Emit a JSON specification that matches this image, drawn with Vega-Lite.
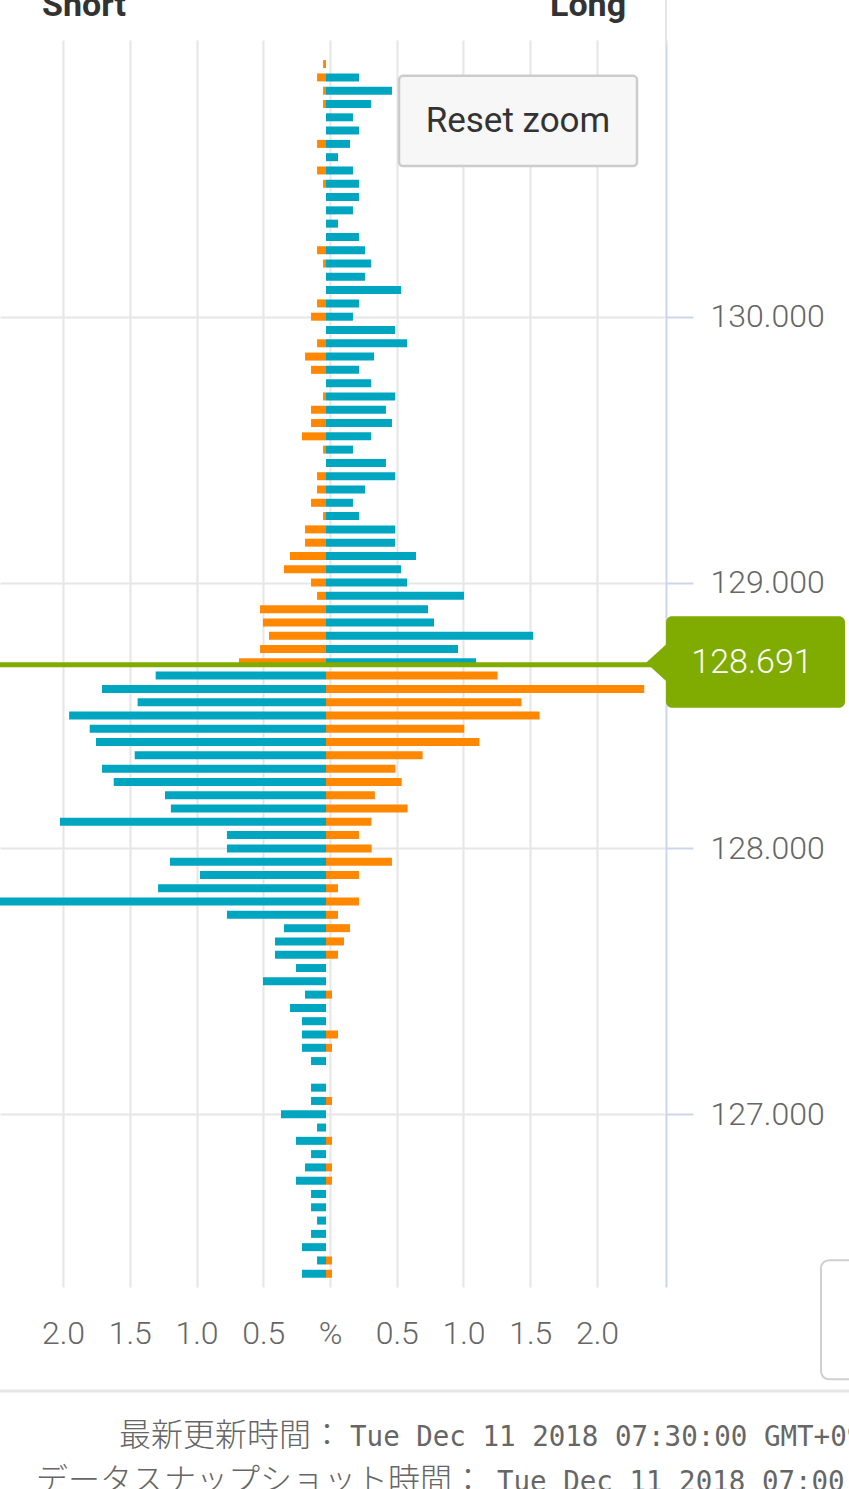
{
  "$schema": "https://vega.github.io/schema/vega-lite/v6.json",
  "description": "Position book style chart, profit (orange) and loss (teal) shares by price level.",
  "width": 666,
  "height": 1247,
  "autosize": {"type": "none"},
  "padding": {"left": 0, "top": 40, "right": 183, "bottom": 202},
  "background": "#ffffff",
  "config": {"view": {"stroke": null}, "font": "Roboto"},
  "datasets": {
    "book": [
      {"price": 130.95, "series": "profit", "pct": -0.022},
      {"price": 130.90, "series": "profit", "pct": -0.067}, {"price": 130.90, "series": "loss", "pct": 0.247},
      {"price": 130.85, "series": "profit", "pct": -0.022}, {"price": 130.85, "series": "loss", "pct": 0.494},
      {"price": 130.80, "series": "profit", "pct": -0.022}, {"price": 130.80, "series": "loss", "pct": 0.337},
      {"price": 130.75, "series": "loss", "pct": 0.202},
      {"price": 130.70, "series": "loss", "pct": 0.247},
      {"price": 130.65, "series": "profit", "pct": -0.067}, {"price": 130.65, "series": "loss", "pct": 0.180},
      {"price": 130.60, "series": "loss", "pct": 0.090},
      {"price": 130.55, "series": "profit", "pct": -0.067}, {"price": 130.55, "series": "loss", "pct": 0.202},
      {"price": 130.50, "series": "profit", "pct": -0.022}, {"price": 130.50, "series": "loss", "pct": 0.247},
      {"price": 130.45, "series": "loss", "pct": 0.247},
      {"price": 130.40, "series": "loss", "pct": 0.202},
      {"price": 130.35, "series": "loss", "pct": 0.090},
      {"price": 130.30, "series": "loss", "pct": 0.247},
      {"price": 130.25, "series": "profit", "pct": -0.067}, {"price": 130.25, "series": "loss", "pct": 0.292},
      {"price": 130.20, "series": "profit", "pct": -0.022}, {"price": 130.20, "series": "loss", "pct": 0.337},
      {"price": 130.15, "series": "loss", "pct": 0.292},
      {"price": 130.10, "series": "loss", "pct": 0.562},
      {"price": 130.05, "series": "profit", "pct": -0.067}, {"price": 130.05, "series": "loss", "pct": 0.247},
      {"price": 130.00, "series": "profit", "pct": -0.112}, {"price": 130.00, "series": "loss", "pct": 0.202},
      {"price": 129.95, "series": "loss", "pct": 0.517},
      {"price": 129.90, "series": "profit", "pct": -0.067}, {"price": 129.90, "series": "loss", "pct": 0.607},
      {"price": 129.85, "series": "profit", "pct": -0.157}, {"price": 129.85, "series": "loss", "pct": 0.360},
      {"price": 129.80, "series": "profit", "pct": -0.112}, {"price": 129.80, "series": "loss", "pct": 0.247},
      {"price": 129.75, "series": "loss", "pct": 0.337},
      {"price": 129.70, "series": "profit", "pct": -0.022}, {"price": 129.70, "series": "loss", "pct": 0.517},
      {"price": 129.65, "series": "profit", "pct": -0.112}, {"price": 129.65, "series": "loss", "pct": 0.449},
      {"price": 129.60, "series": "profit", "pct": -0.112}, {"price": 129.60, "series": "loss", "pct": 0.494},
      {"price": 129.55, "series": "profit", "pct": -0.180}, {"price": 129.55, "series": "loss", "pct": 0.337},
      {"price": 129.50, "series": "profit", "pct": -0.022}, {"price": 129.50, "series": "loss", "pct": 0.202},
      {"price": 129.45, "series": "loss", "pct": 0.449},
      {"price": 129.40, "series": "profit", "pct": -0.067}, {"price": 129.40, "series": "loss", "pct": 0.517},
      {"price": 129.35, "series": "profit", "pct": -0.067}, {"price": 129.35, "series": "loss", "pct": 0.292},
      {"price": 129.30, "series": "profit", "pct": -0.112}, {"price": 129.30, "series": "loss", "pct": 0.202},
      {"price": 129.25, "series": "profit", "pct": -0.022}, {"price": 129.25, "series": "loss", "pct": 0.247},
      {"price": 129.20, "series": "profit", "pct": -0.157}, {"price": 129.20, "series": "loss", "pct": 0.517},
      {"price": 129.15, "series": "profit", "pct": -0.157}, {"price": 129.15, "series": "loss", "pct": 0.517},
      {"price": 129.10, "series": "profit", "pct": -0.270}, {"price": 129.10, "series": "loss", "pct": 0.674},
      {"price": 129.05, "series": "profit", "pct": -0.315}, {"price": 129.05, "series": "loss", "pct": 0.562},
      {"price": 129.00, "series": "profit", "pct": -0.112}, {"price": 129.00, "series": "loss", "pct": 0.607},
      {"price": 128.95, "series": "profit", "pct": -0.067}, {"price": 128.95, "series": "loss", "pct": 1.034},
      {"price": 128.90, "series": "profit", "pct": -0.494}, {"price": 128.90, "series": "loss", "pct": 0.764},
      {"price": 128.85, "series": "profit", "pct": -0.472}, {"price": 128.85, "series": "loss", "pct": 0.809},
      {"price": 128.80, "series": "profit", "pct": -0.427}, {"price": 128.80, "series": "loss", "pct": 1.551},
      {"price": 128.75, "series": "profit", "pct": -0.494}, {"price": 128.75, "series": "loss", "pct": 0.989},
      {"price": 128.70, "series": "profit", "pct": -0.652}, {"price": 128.70, "series": "loss", "pct": 1.124},
      {"price": 128.65, "series": "loss", "pct": -1.276}, {"price": 128.65, "series": "profit", "pct": 1.285},
      {"price": 128.60, "series": "loss", "pct": -1.678}, {"price": 128.60, "series": "profit", "pct": 2.384},
      {"price": 128.55, "series": "loss", "pct": -1.411}, {"price": 128.55, "series": "profit", "pct": 1.464},
      {"price": 128.50, "series": "loss", "pct": -1.924}, {"price": 128.50, "series": "profit", "pct": 1.600},
      {"price": 128.45, "series": "loss", "pct": -1.770}, {"price": 128.45, "series": "profit", "pct": 1.036},
      {"price": 128.40, "series": "loss", "pct": -1.723}, {"price": 128.40, "series": "profit", "pct": 1.149},
      {"price": 128.35, "series": "loss", "pct": -1.433}, {"price": 128.35, "series": "profit", "pct": 0.724},
      {"price": 128.30, "series": "loss", "pct": -1.678}, {"price": 128.30, "series": "profit", "pct": 0.520},
      {"price": 128.25, "series": "loss", "pct": -1.590}, {"price": 128.25, "series": "profit", "pct": 0.567},
      {"price": 128.20, "series": "loss", "pct": -1.206}, {"price": 128.20, "series": "profit", "pct": 0.366},
      {"price": 128.15, "series": "loss", "pct": -1.162}, {"price": 128.15, "series": "profit", "pct": 0.611},
      {"price": 128.10, "series": "loss", "pct": -1.993}, {"price": 128.10, "series": "profit", "pct": 0.340},
      {"price": 128.05, "series": "loss", "pct": -0.742}, {"price": 128.05, "series": "profit", "pct": 0.247},
      {"price": 128.00, "series": "loss", "pct": -0.742}, {"price": 128.00, "series": "profit", "pct": 0.342},
      {"price": 127.95, "series": "loss", "pct": -1.169}, {"price": 127.95, "series": "profit", "pct": 0.494},
      {"price": 127.90, "series": "loss", "pct": -0.944}, {"price": 127.90, "series": "profit", "pct": 0.247},
      {"price": 127.85, "series": "loss", "pct": -1.258}, {"price": 127.85, "series": "profit", "pct": 0.090},
      {"price": 127.80, "series": "loss", "pct": -2.600}, {"price": 127.80, "series": "profit", "pct": 0.247},
      {"price": 127.75, "series": "loss", "pct": -0.742}, {"price": 127.75, "series": "profit", "pct": 0.090},
      {"price": 127.70, "series": "loss", "pct": -0.315}, {"price": 127.70, "series": "profit", "pct": 0.180},
      {"price": 127.65, "series": "loss", "pct": -0.382}, {"price": 127.65, "series": "profit", "pct": 0.135},
      {"price": 127.60, "series": "loss", "pct": -0.382}, {"price": 127.60, "series": "profit", "pct": 0.090},
      {"price": 127.55, "series": "loss", "pct": -0.225},
      {"price": 127.50, "series": "loss", "pct": -0.472},
      {"price": 127.45, "series": "loss", "pct": -0.157}, {"price": 127.45, "series": "profit", "pct": 0.045},
      {"price": 127.40, "series": "loss", "pct": -0.270},
      {"price": 127.35, "series": "loss", "pct": -0.180},
      {"price": 127.30, "series": "loss", "pct": -0.180}, {"price": 127.30, "series": "profit", "pct": 0.090},
      {"price": 127.25, "series": "loss", "pct": -0.180}, {"price": 127.25, "series": "profit", "pct": 0.045},
      {"price": 127.20, "series": "loss", "pct": -0.112},
      {"price": 127.10, "series": "loss", "pct": -0.112},
      {"price": 127.05, "series": "loss", "pct": -0.112}, {"price": 127.05, "series": "profit", "pct": 0.045},
      {"price": 127.00, "series": "loss", "pct": -0.337},
      {"price": 126.95, "series": "loss", "pct": -0.067},
      {"price": 126.90, "series": "loss", "pct": -0.225}, {"price": 126.90, "series": "profit", "pct": 0.045},
      {"price": 126.85, "series": "loss", "pct": -0.112},
      {"price": 126.80, "series": "loss", "pct": -0.157}, {"price": 126.80, "series": "profit", "pct": 0.045},
      {"price": 126.75, "series": "loss", "pct": -0.225}, {"price": 126.75, "series": "profit", "pct": 0.045},
      {"price": 126.70, "series": "loss", "pct": -0.112},
      {"price": 126.65, "series": "loss", "pct": -0.112},
      {"price": 126.60, "series": "loss", "pct": -0.067},
      {"price": 126.55, "series": "loss", "pct": -0.112},
      {"price": 126.50, "series": "loss", "pct": -0.180},
      {"price": 126.45, "series": "loss", "pct": -0.067}, {"price": 126.45, "series": "profit", "pct": 0.045},
      {"price": 126.40, "series": "loss", "pct": -0.180}, {"price": 126.40, "series": "profit", "pct": 0.045}
    ]
  },
  "layer": [
    {
      "data": {"name": "book"},
      "mark": {"type": "bar", "orient": "horizontal", "size": 8, "xOffset": -4, "x2Offset": -4, "clip": true},
      "encoding": {
        "x": {
          "field": "pct",
          "type": "quantitative",
          "scale": {"domain": [-2.472, 2.517], "nice": false, "zero": false},
          "axis": {
            "title": null,
            "values": [-2, -1.5, -1, -0.5, 0, 0.5, 1, 1.5, 2],
            "labelExpr": "datum.value == 0 ? '%' : format(abs(datum.value), '.1f')",
            "grid": true,
            "gridColor": "#e6e6e6",
            "gridWidth": 2,
            "domain": false,
            "ticks": false,
            "tickSize": 0,
            "labelPadding": 46,
            "labelBaseline": "middle",
            "labelFont": "Roboto",
            "labelFontSize": 32,
            "labelFontWeight": 300,
            "labelColor": "#666666",
            "labelFlush": false,
            "labelOverlap": false
          }
        },
        "x2": {"datum": 0},
        "y": {
          "field": "price",
          "type": "quantitative",
          "scale": {"domain": [126.369, 131.022], "nice": false, "zero": false},
          "axis": {
            "title": null,
            "orient": "right",
            "values": [127, 128, 129, 130],
            "format": ".3f",
            "grid": true,
            "gridColor": "#e6e6e6",
            "gridWidth": 2,
            "tickSize": 27,
            "tickWidth": 2,
            "tickColor": "#ccd6eb",
            "domainColor": "#ccd6eb",
            "domainWidth": 2,
            "labelPadding": 17,
            "labelFont": "Roboto",
            "labelFontSize": 32,
            "labelFontWeight": 300,
            "labelColor": "#666666",
            "labelFlush": false
          }
        },
        "color": {
          "field": "series",
          "type": "nominal",
          "scale": {"domain": ["loss", "profit"], "range": ["#00a5bf", "#ff8800"]},
          "legend": null
        }
      }
    },
    {
      "data": {"values": [{}]},
      "mark": {"type": "rule", "color": "#e6e6e6", "strokeWidth": 2},
      "encoding": {
        "x": {"datum": 2.517, "type": "quantitative"},
        "y": {"datum": 131.022, "type": "quantitative"},
        "y2": {"datum": 131.2}
      }
    },
    {
      "data": {"values": [{"current": 128.691}]},
      "mark": {"type": "rule", "color": "#80ab00", "strokeWidth": 5},
      "encoding": {
        "x": {"datum": -2.472, "type": "quantitative"},
        "x2": {"datum": 2.45},
        "y": {"field": "current", "type": "quantitative"}
      }
    },
    {
      "data": {"values": [{}]},
      "mark": {"type": "point", "shape": "M -1 0 L 0.1 -1 L 0.1 1 Z", "size": 1600, "filled": true, "opacity": 1, "color": "#80ab00"},
      "encoding": {
        "x": {"datum": 2.517, "type": "quantitative"},
        "y": {"datum": 128.698, "type": "quantitative"}
      }
    },
    {
      "data": {"values": [{}]},
      "mark": {"type": "rect", "color": "#80ab00", "cornerRadius": 6},
      "encoding": {
        "x": {"datum": 2.517, "type": "quantitative"},
        "x2": {"datum": 3.858},
        "y": {"datum": 128.873, "type": "quantitative"},
        "y2": {"datum": 128.529}
      }
    },
    {
      "data": {"values": [{"label": "128.691"}]},
      "mark": {"type": "text", "color": "#ffffff", "font": "Roboto", "fontSize": 34, "fontWeight": 300, "align": "center", "baseline": "middle"},
      "encoding": {
        "x": {"datum": 3.161, "type": "quantitative"},
        "y": {"datum": 128.698, "type": "quantitative"},
        "text": {"field": "label"}
      }
    },
    {
      "data": {"values": [{}]},
      "mark": {"type": "rect", "fill": "#f7f7f7", "stroke": "#cccccc", "strokeWidth": 2.5, "cornerRadius": 4},
      "encoding": {
        "x": {"datum": 0.517, "type": "quantitative"},
        "x2": {"datum": 2.3},
        "y": {"datum": 130.906, "type": "quantitative"},
        "y2": {"datum": 130.567}
      }
    },
    {
      "data": {"values": [{"label": "Reset zoom"}]},
      "mark": {"type": "text", "color": "#333333", "font": "Roboto", "fontSize": 35, "align": "center", "baseline": "middle"},
      "encoding": {
        "x": {"datum": 1.408, "type": "quantitative"},
        "y": {"datum": 130.735, "type": "quantitative"},
        "text": {"field": "label"}
      }
    },
    {
      "data": {"values": [{"label": "Short", "px": -2.157}, {"label": "Long", "px": 1.648}]},
      "mark": {"type": "text", "color": "#333333", "font": "Roboto", "fontSize": 34, "fontWeight": "bold", "align": "left", "baseline": "alphabetic"},
      "encoding": {
        "x": {"field": "px", "type": "quantitative"},
        "y": {"datum": 131.13, "type": "quantitative"},
        "text": {"field": "label"}
      }
    },
    {
      "data": {"values": [{}]},
      "mark": {"type": "rule", "color": "#e6e6e6", "strokeWidth": 3},
      "encoding": {
        "x": {"datum": -2.472, "type": "quantitative"},
        "x2": {"datum": 3.888},
        "y": {"datum": 125.959, "type": "quantitative"}
      }
    },
    {
      "data": {"values": [{}]},
      "mark": {"type": "rect", "fill": "#ffffff", "stroke": "#d0d0d0", "strokeWidth": 2, "cornerRadius": 8},
      "encoding": {
        "x": {"datum": 3.678, "type": "quantitative"},
        "x2": {"datum": 3.95},
        "y": {"datum": 126.451, "type": "quantitative"},
        "y2": {"datum": 126.003}
      }
    },
    {
      "data": {"values": [
        {"label": "最新更新時間：", "px": -1.581, "py": 125.753},
        {"label": "データスナップショット時間：", "px": -2.202, "py": 125.582}
      ]},
      "mark": {"type": "text", "color": "#666666", "font": "Noto Sans CJK JP", "fontSize": 32, "fontWeight": 300, "align": "left", "baseline": "alphabetic"},
      "encoding": {
        "x": {"field": "px", "type": "quantitative"},
        "y": {"field": "py", "type": "quantitative"},
        "text": {"field": "label"}
      }
    },
    {
      "data": {"values": [
        {"label": "Tue Dec 11 2018 07:30:00 GMT+0900 (JST)", "px": 0.15, "py": 125.753},
        {"label": "Tue Dec 11 2018 07:00:00 GMT+0900 (JST)", "px": 1.251, "py": 125.582}
      ]},
      "mark": {"type": "text", "color": "#666666", "font": "DejaVu Sans Mono", "fontSize": 27.5, "align": "left", "baseline": "alphabetic"},
      "encoding": {
        "x": {"field": "px", "type": "quantitative"},
        "y": {"field": "py", "type": "quantitative"},
        "text": {"field": "label"}
      }
    }
  ]
}
